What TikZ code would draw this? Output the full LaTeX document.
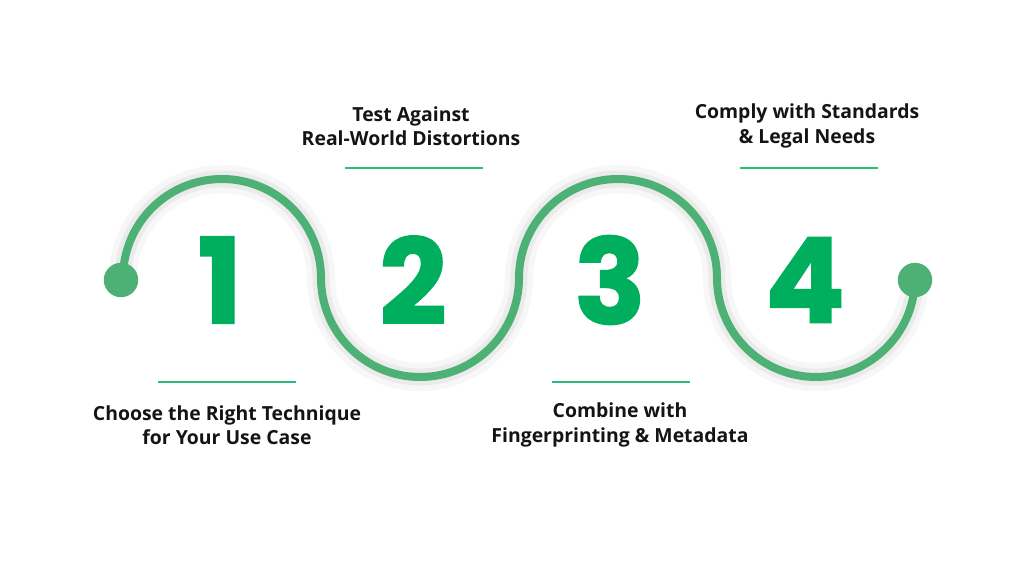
\documentclass[tikz,border=0pt]{standalone}
\usepackage{fontspec}
\setmainfont{Open Sans}
\newfontfamily\numfont{Poppins}[FakeBold=1.5]
\usetikzlibrary{positioning}

\definecolor{wavegreen}{RGB}{77,177,117}
\definecolor{numgreen}{RGB}{0,175,93}
\definecolor{rulegreen}{RGB}{40,190,120}
\definecolor{textdark}{RGB}{20,20,20}

\tikzset{
  wave/.style={line width=5.7pt, wavegreen},
  waveshade/.style={line width=12pt, black!8},
  dotend/.style={circle, fill=wavegreen, inner sep=0pt, minimum size=0.86cm},
  numlabel/.style={text=numgreen, font=\numfont\bfseries\fontsize{84}{84}\selectfont, inner sep=0pt},
  steptext/.style={text=textdark, align=center, font=\bfseries\fontsize{13.8}{17.2}\selectfont, inner sep=0pt},
  rule/.style={line width=1.5pt, rulegreen}
}

\begin{document}
\begin{tikzpicture}[x=0.025cm, y=-0.025cm]

        % Canvas
        \useasboundingbox[fill=white] (0,0) rectangle (1024,576);

        % End dots of the wave
        \coordinate (start) at (123,278);
        \coordinate (finish) at (915,278);

        % Soft shadow under the wave
        \draw[waveshade, black!3, line width=20pt, shift={(6,11)}] (start)
          arc[start angle=180, end angle=360, radius=99]
          arc[start angle=180, end angle=0, radius=99]
          arc[start angle=180, end angle=360, radius=99]
          arc[start angle=180, end angle=0, radius=99];
        \draw[waveshade, shift={(4,8)}] (start)
          arc[start angle=180, end angle=360, radius=99]
          arc[start angle=180, end angle=0, radius=99]
          arc[start angle=180, end angle=360, radius=99]
          arc[start angle=180, end angle=0, radius=99];

        % The wave (two humps up, two down)
        \draw[wave] (start)
          arc[start angle=180, end angle=360, radius=99]
          arc[start angle=180, end angle=0, radius=99]
          arc[start angle=180, end angle=360, radius=99]
          arc[start angle=180, end angle=0, radius=99];

        \node[dotend] (dotA) at (121,280) {};
        \node[dotend] (dotB) at (915,280) {};

        % Step numbers
        \foreach \n/\x in {1/220,2/413,3/610,4/805} {
          \node[numlabel] (num\n) at (\x,280) {\n};
        }

        % Step texts
        \node[steptext] (step1) at (227,425) {Choose the Right Technique\\for Your Use Case};
        \node[steptext] (step2) at (411,126) {Test Against\\Real-World Distortions};
        \node[steptext] (step3) at (620,425) {Combine with\\Fingerprinting \& Metadata};
        \node[steptext] (step4) at (807,126) {Comply with Standards\\\& Legal Needs};

        % Green rules
        \foreach \x/\y in {227/382,414/168,621/382,809/168} {
          \coordinate (ra) at (\x-69,\y);
          \coordinate (rb) at (\x+69,\y);
          \draw[rule] (ra) -- (rb);
        }

      \end{tikzpicture}
\end{document}
